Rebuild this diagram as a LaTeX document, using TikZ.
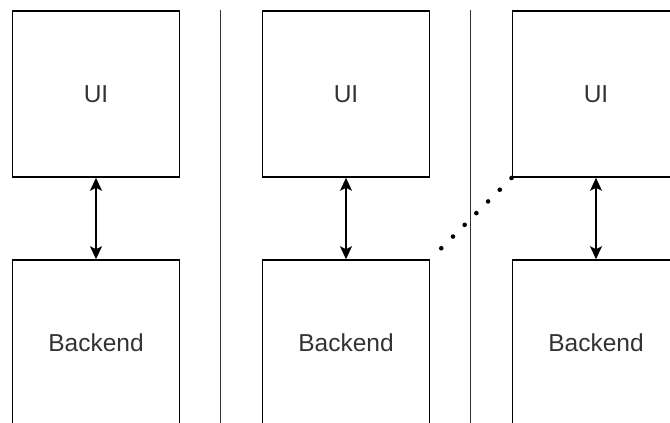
\documentclass[tikz,border=0pt]{standalone}
\usepackage{fontspec}
\setmainfont{Liberation Sans}
\usetikzlibrary{arrows.meta}
\definecolor{txt}{HTML}{333333}
\tikzset{
  box/.style={draw=black, line width=1.6pt, rectangle, minimum width=167pt, minimum height=166pt, inner sep=0pt, text=txt, font=\fontsize{24.5pt}{28pt}\selectfont},
  link/.style={line width=1.6pt, {Stealth[length=13pt,width=12pt,inset=3pt]}-{Stealth[length=13pt,width=12pt,inset=3pt]}},
  sep/.style={line width=1.4pt, draw=black!80},
  dotline/.style={line width=4.6pt, line cap=round, dash pattern=on 0pt off 16.55pt, dash phase=1.05pt}
}
\begin{document}
\begin{tikzpicture}[x=1pt,y=-1pt]
\useasboundingbox (0,0) rectangle (670,423);
\clip (0,0) rectangle (670,423);
\fill[white] (0,0) rectangle (670,423);
\node[box] (u1) at (96,94) {UI};
\node[box] (u2) at (346,94) {UI};
\node[box] (u3) at (596,94) {UI};
\node[box] (b1) at (96,343) {Backend};
\node[box] (b2) at (346,343) {Backend};
\node[box] (b3) at (596,343) {Backend};
\coordinate (s1t) at (220.5,10);
\coordinate (s1b) at (220.5,440);
\coordinate (s2t) at (470.5,10);
\coordinate (s2b) at (470.5,440);
\draw[sep] (s1t) -- (s1b);
\draw[sep] (s2t) -- (s2b);
\draw[link] (u1) -- (b1);
\draw[link] (u2) -- (b2);
\draw[link] (u3) -- (b3);
\draw[dotline] (b2.north east) -- (u3.south west);
\end{tikzpicture}
\end{document}
